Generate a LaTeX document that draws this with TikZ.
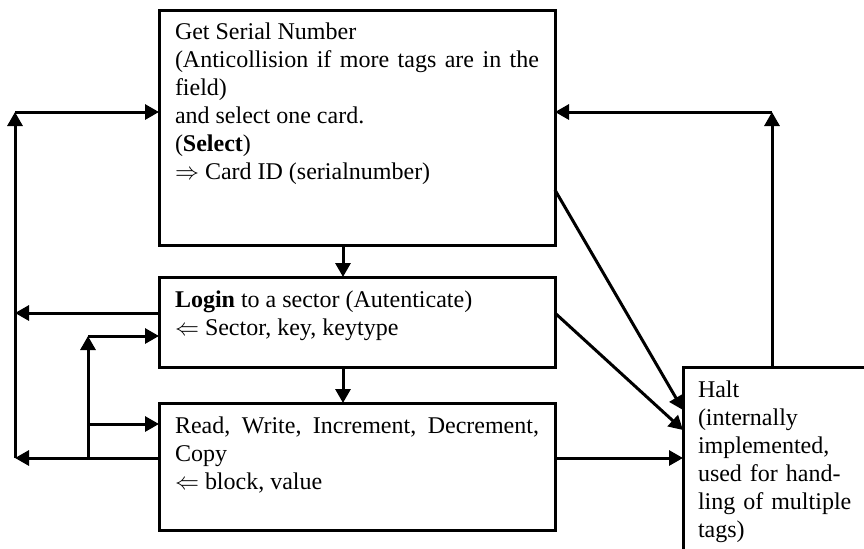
\documentclass[tikz,border=0pt]{standalone}
\usepackage{fontspec}
\setmainfont{Liberation Serif}
\usetikzlibrary{arrows.meta}

\begin{document}
\begin{tikzpicture}[x=0.5pt,y=-0.5pt]
	\useasboundingbox (0,0) rectangle (864,548);
	\tikzstyle{every node}=[font=\fontsize{12}{14}\selectfont, draw, rectangle, line width=1.5pt, anchor=north west, outer sep=0pt, inner xsep=8pt, inner ysep=4pt, align=justify, text width=182pt, text height=11pt]
	\tikzstyle{conn}=[line width=1.5pt, -{Triangle[length=7pt,width=7.5pt]}]
	\draw (159,10) node (sel) [text height=10.5pt, text depth=99pt] {Get Serial Number\\(Anticollision if more tags are in the field)\\and select one card.\\(\textbf{Select})\\$\Rightarrow$ Card ID (serialnumber)};
	\draw (159,277) node (login) [text depth=26pt] {\textbf{Login} to a sector (Autenticate)\\$\Leftarrow$ Sector, key, keytype};
	\draw (159,403) node (rw) [text depth=44.5pt] {Read, Write, Increment, Decrement, Copy\\$\Leftarrow$ block, value};
	\draw (683,367) node (halt) [align=left, text width=80pt, inner xsep=7.5pt, text depth=100pt] {Halt\\(internally\\implemented,\\used for hand-\\ling of multiple\\tags)};
	\coordinate (busA) at (15,112);
	\coordinate (busL) at (15,313);
	\coordinate (busR) at (15,458);
	\coordinate (stemTop) at (88,336);
	\coordinate (stemMid) at (88,424);
	\coordinate (stemBot) at (88,458);
	\coordinate (retTop) at (772,112);
	\coordinate (hA) at (683,410);
	\coordinate (hB) at (683,430);
	\coordinate (hC) at (683,458);
	\draw [conn] ([xshift=-7pt]sel.south) -- ([xshift=-7pt]login.north);
	\draw [conn] ([xshift=-7pt]login.south) -- ([xshift=-7pt]rw.north);
	\draw [conn] (login.west |- busL) -- (busL);
	\draw [conn] (rw.west |- busR) -- (busR);
	\draw [conn] (busR) -- (busA);
	\draw [conn] (busA) -- (sel.west |- busA);
	\draw [conn] (stemBot) -- (stemTop);
	\draw [conn] (stemTop) -- (login.west |- stemTop);
	\draw [conn] (stemMid) -- (rw.west |- stemMid);
	\draw [conn] ([yshift=-31.25pt]sel.east) -- (hA);
	\draw [conn] ([yshift=4.5pt]login.east) -- (hB);
	\draw [conn] (rw.east |- hC) -- (hC);
	\draw [conn] (halt.north -| retTop) -- (retTop);
	\draw [conn] (retTop) -- (sel.east |- retTop);
\end{tikzpicture}
\end{document}
